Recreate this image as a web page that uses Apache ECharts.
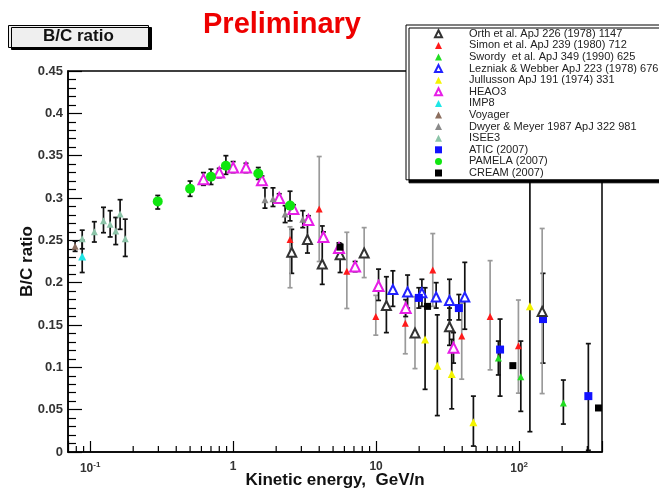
<!DOCTYPE html>
<html>
<head>
<meta charset="utf-8">
<title>B/C ratio</title>
<script src="https://cdn.jsdelivr.net/npm/echarts@6/dist/echarts.min.js"></script>
<style>
  html, body { margin: 0; padding: 0; background: #fff; }
  #chart { width: 659px; height: 493px; }
</style>
</head>
<body>
<div id="chart"></div>
<script>
// Measurements: [kinetic energy (GeV/n), B/C ratio, lower error, upper error]
const orth = [
  [2.57, 0.236, 0.025, 0.027],
  [3.31, 0.251, 0.016, 0.018],
  [4.20, 0.222, 0.024, 0.045],
  [5.60, 0.233, 0.021, 0.013],
  [11.8, 0.173, 0.032, 0.034],
  [32.6, 0.148, 0.022, 0.022]
];
const orthWide = [
  [8.25, 0.235, 0.029, 0.030],
  [18.7, 0.1405, 0.042, 0.043],
  [145, 0.166, 0.097, 0.098]
];
const simon = [
  [2.50, 0.251, 0.057, 0.015],
  [4.00, 0.287, 0.062, 0.062],
  [6.24, 0.2135, 0.044, 0.046],
  [9.95, 0.160, 0.022, 0.025],
  [16.0, 0.152, 0.036, 0.018],
  [24.9, 0.215, 0.043, 0.043],
  [39.7, 0.137, 0.051, 0.039],
  [62.7, 0.160, 0.063, 0.066],
  [98.9, 0.1255, 0.056, 0.054]
];
const swordy = [
  [71.6, 0.111, 0.020, 0.020],
  [102.8, 0.089, 0.041, 0.042],
  [204, 0.058, 0.025, 0.027]
];
const lezniak = [
  [13.1, 0.192, 0.020, 0.022],
  [16.6, 0.189, 0.019, 0.020],
  [20.9, 0.188, 0.016, 0.016],
  [26.3, 0.183, 0.013, 0.017],
  [32.6, 0.179, 0.023, 0.025],
  [41.7, 0.183, 0.038, 0.041]
];
const jullusson = [
  [22.0, 0.133, 0.059, 0.061],
  [26.8, 0.102, 0.059, 0.060],
  [33.8, 0.092, 0.041, 0.041],
  [47.9, 0.035, 0.028, 0.031],
  [119, 0.172, 0.148, 0.160]
];
const heao3 = [
  [0.62, 0.322, 0.007, 0.008],
  [0.80, 0.330, 0.006, 0.005],
  [1.00, 0.336, 0.006, 0.007],
  [1.23, 0.336, 0.006, 0.005],
  [1.59, 0.321, 0.005, 0.005],
  [2.10, 0.300, 0.005, 0.005],
  [2.64, 0.287, 0.005, 0.005],
  [3.36, 0.274, 0.005, 0.005],
  [4.28, 0.254, 0.006, 0.006],
  [5.50, 0.241, 0.006, 0.006],
  [7.13, 0.219, 0.006, 0.006],
  [10.4, 0.196, 0.017, 0.020],
  [16.1, 0.170, 0.010, 0.010],
  [34.8, 0.123, 0.018, 0.018]
];
const imp8 = [
  [0.088, 0.231, 0.019, 0.019]
];
const voyager = [
  [0.0785, 0.243, 0.006, 0.006]
];
const dwyer = [
  [1.67, 0.298, 0.010, 0.014],
  [1.90, 0.299, 0.009, 0.013],
  [2.31, 0.281, 0.010, 0.010],
  [3.07, 0.275, 0.010, 0.010]
];
const isee3 = [
  [0.088, 0.252, 0.012, 0.010],
  [0.107, 0.260, 0.012, 0.012],
  [0.124, 0.273, 0.014, 0.016],
  [0.138, 0.269, 0.015, 0.016],
  [0.151, 0.261, 0.016, 0.016],
  [0.162, 0.281, 0.018, 0.017],
  [0.176, 0.252, 0.021, 0.023]
];
const atic = [
  [19.9, 0.182, 0.012, 0.012],
  [37.9, 0.170, 0.014, 0.016],
  [73.6, 0.121, 0.055, 0.036],
  [147, 0.157, 0.052, 0.054],
  [305, 0.066, 0.064, 0.062]
];
const pamela = [
  [0.297, 0.296, 0.009, 0.007],
  [0.50, 0.311, 0.009, 0.009],
  [0.70, 0.325, 0.009, 0.009],
  [0.89, 0.338, 0.010, 0.012],
  [1.50, 0.329, 0.007, 0.007],
  [2.50, 0.291, 0.018, 0.017]
];
// CREAM points carry no drawn error bars
const cream = [
  [5.6, 0.242],
  [22.9, 0.172],
  [90.4, 0.102],
  [359, 0.052]
];

// Axis labelling
const xTickLabels = ['10{sup|-1}', '1', '10', '10{sup|2}'];   // decades 10^-1 .. 10^2
const xMinorTicks = [0.08, 0.09,
  0.2, 0.3, 0.4, 0.5, 0.6, 0.7, 0.8, 0.9,
  2, 3, 4, 5, 6, 7, 8, 9,
  20, 30, 40, 50, 60, 70, 80, 90,
  200, 300];

// Marker and error-bar appearance for each data set
const sets = [
  { name: 'Orth et al. ApJ 226 (1978) 1147', pts: orth, symbol: 'emptyTriangle', size: 9, color: '#333333', bar: '#111' },
  { name: 'Simon et al. ApJ 239 (1980) 712', pts: simon, symbol: 'triangle', size: 7, color: '#ff1a1a', bar: '#9a9a9a' },
  { name: 'Swordy  et al. ApJ 349 (1990) 625', pts: swordy, symbol: 'triangle', size: 7, color: '#22dd22', bar: '#111' },
  { name: 'Lezniak & Webber ApJ 223 (1978) 676', pts: lezniak, symbol: 'emptyTriangle', size: 9, color: '#2222ff', bar: '#111' },
  { name: 'Jullusson ApJ 191 (1974) 331', pts: jullusson, symbol: 'triangle', size: 8, color: '#f4f400', bar: '#111' },
  { name: 'HEAO3', pts: heao3, symbol: 'emptyTriangle', size: 10, color: '#e61ee6', bar: '#111' },
  { name: 'IMP8', pts: imp8, symbol: 'triangle', size: 8, color: '#1ee6e6', bar: '#111' },
  { name: 'Voyager', pts: voyager, symbol: 'triangle', size: 7, color: '#8c6e5e', bar: '#111' },
  { name: 'Dwyer & Meyer 1987 ApJ 322 981', pts: dwyer, symbol: 'triangle', size: 7, color: '#8a8a8a', bar: '#111' },
  { name: 'ISEE3', pts: isee3, symbol: 'triangle', size: 7, color: '#8cc4a8', bar: '#111' },
  { name: 'ATIC (2007)', pts: atic, symbol: 'rect', size: 8, color: '#1212ff', bar: '#111' },
  { name: 'PAMELA (2007)', pts: pamela, symbol: 'circle', size: 10, color: '#10e610', bar: '#111' },
  { name: 'CREAM (2007)', pts: cream, symbol: 'rect', size: 7, color: '#000000', bar: null }
];
// wide Orth points share the Orth legend entry but have grey bars
const extraSets = [
  { name: 'Orth et al. ApJ 226 (1978) 1147', pts: orthWide, symbol: 'emptyTriangle', size: 9, color: '#333333', bar: '#9a9a9a' }
];

function markerSeries(s) {
  return {
    type: 'scatter',
    name: s.name,
    data: s.pts.map(p => [p[0], p[1]]),
    symbol: s.symbol,
    symbolSize: s.size,
    itemStyle: { color: s.color, borderWidth: s.symbol.indexOf('empty') === 0 ? 1.6 : 0, opacity: 1 },
    z: 4,
    silent: true,
    animation: false
  };
}

function barSeries(s) {
  const color = s.bar;
  return {
    type: 'custom',
    name: s.name + ' errors',
    data: s.pts.map(p => [p[0], p[1] - p[2], p[1] + p[3]]),
    encode: { x: 0, y: [1, 2] },
    z: 2,
    silent: true,
    animation: false,
    renderItem(params, api) {
      const lo = api.coord([api.value(0), api.value(1)]);
      const hi = api.coord([api.value(0), api.value(2)]);
      const cap = 2.5;
      const st = { stroke: color, lineWidth: 1.7 };
      return {
        type: 'group',
        children: [
          { type: 'line', shape: { x1: lo[0], y1: lo[1], x2: hi[0], y2: hi[1] }, style: st },
          { type: 'line', shape: { x1: lo[0] - cap, y1: lo[1], x2: lo[0] + cap, y2: lo[1] }, style: st },
          { type: 'line', shape: { x1: hi[0] - cap, y1: hi[1], x2: hi[0] + cap, y2: hi[1] }, style: st }
        ]
      };
    }
  };
}

const minorTickSeries = {
  type: 'custom',
  name: 'minor ticks',
  data: xMinorTicks.map(v => [v, 0]),
  encode: { x: 0, y: 1 },
  z: 6,
  silent: true,
  animation: false,
  clip: false,
  renderItem(params, api) {
    const p = api.coord([api.value(0), 0]);
    return { type: 'line', shape: { x1: p[0], y1: p[1], x2: p[0], y2: p[1] - 6 }, style: { stroke: '#000', lineWidth: 1.2 } };
  }
};

const allSets = sets.concat(extraSets);
const series = [];
allSets.forEach(s => series.push(markerSeries(s)));
allSets.forEach(s => { if (s.bar) series.push(barSeries(s)); });
series.push(minorTickSeries);

const chart = echarts.init(document.getElementById('chart'), null, { renderer: 'canvas' });
chart.setOption({
  animation: false,
  backgroundColor: '#ffffff',
  textStyle: { fontFamily: 'Liberation Sans, Arial, sans-serif' },
  title: [
    {
      text: 'B/C ratio',
      left: 8, top: 25,
      padding: [3, 35, 3, 35],
      backgroundColor: '#efefef',
      borderColor: '#000', borderWidth: 1,
      shadowColor: '#000', shadowBlur: 0, shadowOffsetX: 3, shadowOffsetY: 2,
      textStyle: { fontSize: 17, fontWeight: 'bold', color: '#111', fontFamily: 'Liberation Sans, Arial, sans-serif' }
    },
    {
      text: 'Preliminary',
      left: 203, top: 10,
      padding: 0,
      textStyle: { fontSize: 29, fontWeight: 'bold', color: '#ee0000', fontFamily: 'Liberation Sans, Arial, sans-serif' }
    }
  ],
  legend: {
    orient: 'vertical',
    left: 406, top: 25,
    padding: [3, 40, 1, 28],
    itemWidth: 7, itemHeight: 7,
    itemGap: 0,
    selectedMode: false,
    backgroundColor: '#fff',
    borderColor: '#000', borderWidth: 1,
    shadowColor: '#000', shadowBlur: 0, shadowOffsetX: 3, shadowOffsetY: 3,
    data: sets.map(s => s.name),
    textStyle: { fontSize: 11, lineHeight: 11.6, color: '#222', padding: [0, 0, 0, 22], fontFamily: 'Liberation Sans, Arial, sans-serif' }
  },
  grid: {
    left: 68, right: 57, top: 71, bottom: 41,
    outerBoundsMode: 'none',
    containLabel: false,
    show: true, borderColor: '#000', borderWidth: 1.5, backgroundColor: 'transparent'
  },
  xAxis: {
    type: 'log', logBase: 10,
    min: 0.07, max: 380,
    name: 'Kinetic energy,  GeV/n',
    nameLocation: 'middle', nameGap: 20,
    nameMoveOverlap: false,
    nameTextStyle: { fontSize: 17, fontWeight: 'bold', color: '#111' },
    axisLine: { lineStyle: { color: '#000', width: 1.5 } },
    axisTick: { inside: true, length: 11, lineStyle: { color: '#000', width: 1.2 } },
    splitLine: { show: false },
    axisLabel: {
      margin: 9,
      color: '#333', fontSize: 12, fontWeight: 'bold',
      formatter(v) {
        const l = Math.log10(v);
        const k = Math.round(l);
        return Math.abs(l - k) < 1e-6 && k >= -1 && k <= 2 ? xTickLabels[k + 1] : '';
      },
      rich: { sup: { fontSize: 8, fontWeight: 'bold', color: '#333', padding: [0, 0, 8, 0] } }
    }
  },
  yAxis: {
    type: 'value',
    min: 0, max: 0.45, interval: 0.05,
    name: 'B/C ratio',
    nameLocation: 'middle', nameGap: 32, nameRotate: 90,
    nameMoveOverlap: false,
    nameTextStyle: { fontSize: 17, fontWeight: 'bold', color: '#111' },
    axisLine: { lineStyle: { color: '#000', width: 1.5 } },
    axisTick: { inside: true, length: 14, lineStyle: { color: '#000', width: 1.2 } },
    minorTick: { show: true, splitNumber: 5, length: 8, lineStyle: { color: '#000', width: 1.2 } },
    splitLine: { show: false },
    axisLabel: { margin: 5, color: '#333', fontSize: 13, fontWeight: 'bold' }
  },
  series: series
});
</script>
</body>
</html>
